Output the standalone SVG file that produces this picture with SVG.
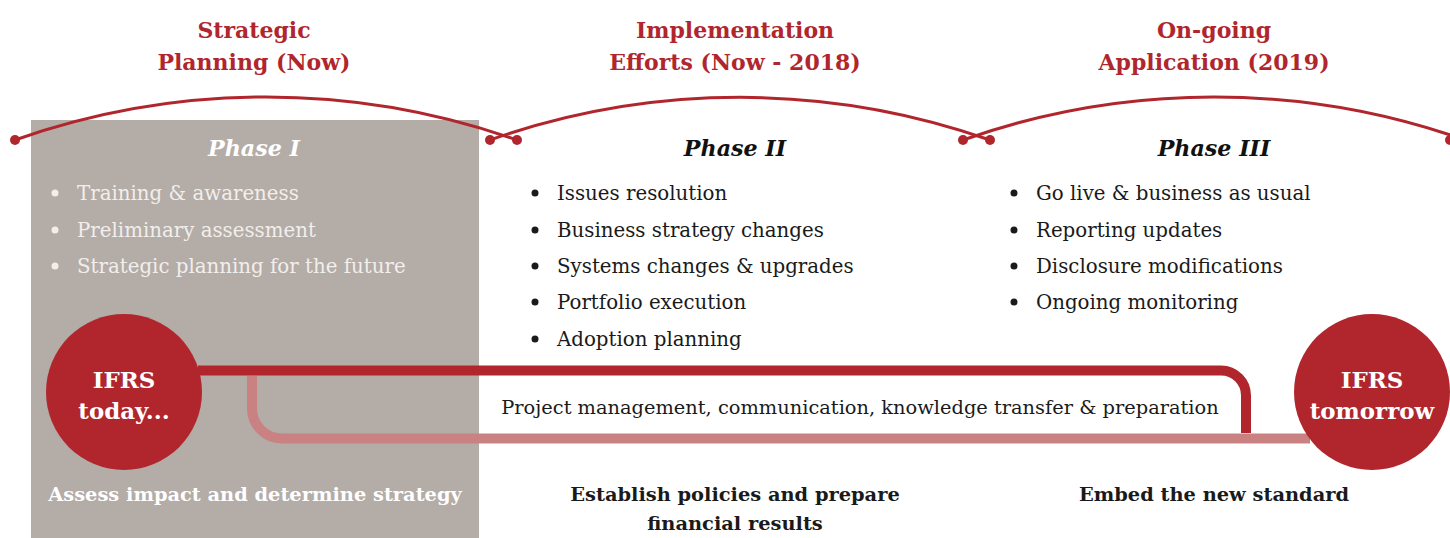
<svg xmlns="http://www.w3.org/2000/svg" width="1450" height="538" viewBox="0 0 1450 538">
<defs>
<style>
text{font-family:"DejaVu Serif","Liberation Serif",serif;}
.hdr{font-size:22px;font-weight:bold;fill:#b1262d;text-anchor:middle;}
.ph{font-size:22.2px;font-weight:bold;font-style:italic;text-anchor:middle;}
.bl{font-size:19.8px;fill:#1a1a1a;}
.bl1{font-size:19.8px;fill:#f2eeeb;}
.bd{fill:#1a1a1a;}
.bd1{fill:#f2eeeb;}
.pm{font-size:19.4px;fill:#1a1a1a;text-anchor:middle;}
.ft{font-size:19.4px;font-weight:bold;text-anchor:middle;fill:#1a1a1a;}
.ci{font-size:22.9px;font-weight:bold;fill:#ffffff;text-anchor:middle;}
.arc{fill:none;stroke:#b1262d;stroke-width:3;}
.dot{fill:#b1262d;}
</style>
</defs>
<rect id="phase1-bg" x="31" y="120" width="448" height="418" fill="#b3aca7"/>
<g id="arcs">
<path class="arc" d="M15 140 A754 754 0 0 1 517 140"/>
<path class="arc" d="M490 140 A754 754 0 0 1 990 140"/>
<path class="arc" d="M963 140 A754 754 0 0 1 1465 140"/>
<circle class="dot" cx="15" cy="140" r="5"/>
<circle class="dot" cx="490" cy="140" r="5"/>
<circle class="dot" cx="517" cy="140" r="5"/>
<circle class="dot" cx="963" cy="140" r="5"/>
<circle class="dot" cx="990" cy="140" r="5"/>
<circle class="dot" cx="1450" cy="140" r="5"/>
</g>
<g id="headers">
<text class="hdr" x="254" y="38">Strategic</text>
<text class="hdr" x="254" y="70">Planning (Now)</text>
<text class="hdr" x="735" y="38">Implementation</text>
<text class="hdr" x="735" y="70">Efforts (Now - 2018)</text>
<text class="hdr" x="1214" y="38">On-going</text>
<text class="hdr" x="1214" y="70">Application (2019)</text>
</g>
<g id="phase1">
<text class="ph" x="254" y="156" fill="#ffffff">Phase I</text>
<circle class="bd1" cx="55" cy="193" r="3.5"/><text class="bl1" x="77" y="200">Training &amp; awareness</text>
<circle class="bd1" cx="55" cy="230" r="3.5"/><text class="bl1" x="77" y="237">Preliminary assessment</text>
<circle class="bd1" cx="55" cy="266" r="3.5"/><text class="bl1" x="77" y="273">Strategic planning for the future</text>
<text class="ft" x="255" y="501" style="fill:#ffffff">Assess impact and determine strategy</text>
</g>
<g id="phase2">
<text class="ph" x="735" y="156" fill="#111111">Phase II</text>
<circle class="bd" cx="535" cy="193" r="3.5"/><text class="bl" x="557" y="200">Issues resolution</text>
<circle class="bd" cx="535" cy="230" r="3.5"/><text class="bl" x="557" y="237">Business strategy changes</text>
<circle class="bd" cx="535" cy="266" r="3.5"/><text class="bl" x="557" y="273">Systems changes &amp; upgrades</text>
<circle class="bd" cx="535" cy="302" r="3.5"/><text class="bl" x="557" y="309">Portfolio execution</text>
<circle class="bd" cx="535" cy="339" r="3.5"/><text class="bl" x="557" y="346">Adoption planning</text>
<text class="ft" x="735" y="501">Establish policies and prepare</text>
<text class="ft" x="735" y="530">financial results</text>
</g>
<g id="phase3">
<text class="ph" x="1214" y="156" fill="#111111">Phase III</text>
<circle class="bd" cx="1014" cy="193" r="3.5"/><text class="bl" x="1036" y="200">Go live &amp; business as usual</text>
<circle class="bd" cx="1014" cy="230" r="3.5"/><text class="bl" x="1036" y="237">Reporting updates</text>
<circle class="bd" cx="1014" cy="266" r="3.5"/><text class="bl" x="1036" y="273">Disclosure modifications</text>
<circle class="bd" cx="1014" cy="302" r="3.5"/><text class="bl" x="1036" y="309">Ongoing monitoring</text>
<text class="ft" x="1214" y="501">Embed the new standard</text>
</g>
<g id="connectors">
<path d="M198 370.5 H1221 A25 25 0 0 1 1246 395.5 V433" fill="none" stroke="#b1262d" stroke-width="10"/>
<path d="M252 376 V408.5 A30 30 0 0 0 282 438.5 H1310" fill="none" stroke="#c98182" stroke-width="10"/>
<text class="pm" x="860" y="414">Project management, communication, knowledge transfer &amp; preparation</text>
</g>
<g id="ifrs-today">
<circle cx="124" cy="392" r="78" fill="#b1262d"/>
<text class="ci" x="124" y="388">IFRS</text>
<text class="ci" x="124" y="419">today...</text>
</g>
<g id="ifrs-tomorrow">
<circle cx="1372" cy="392" r="78" fill="#b1262d"/>
<text class="ci" x="1372" y="388">IFRS</text>
<text class="ci" x="1372" y="419">tomorrow</text>
</g>
</svg>
